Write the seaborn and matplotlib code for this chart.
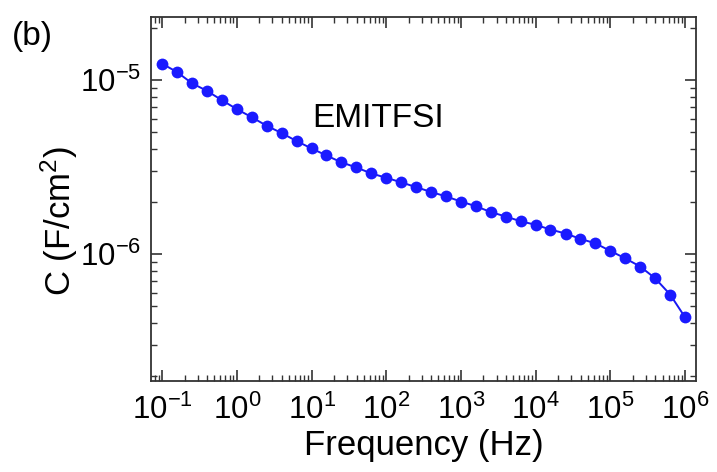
import numpy as np
import pandas as pd
import matplotlib
matplotlib.use("Agg")
import matplotlib.pyplot as plt
import matplotlib.ticker as mticker
import seaborn as sns

# ----------------------------
# DATA
# ----------------------------

freq_hz = [0.1, 0.158, 0.251, 0.398, 0.631,
           1.0, 1.58, 2.51, 3.98, 6.31,
           10.0, 15.8, 25.1, 39.8, 63.1,
           1e2, 1.58e2, 2.51e2, 3.98e2, 6.31e2,
           1e3, 1.58e3, 2.51e3, 3.98e3, 6.31e3,
           1e4, 1.58e4, 2.51e4, 3.98e4, 6.31e4,
           1e5, 1.58e5, 2.51e5, 3.98e5, 6.31e5,
           1e6]

cap_f_cm2 = [1.24e-5, 1.11e-5, 9.57e-6, 8.65e-6, 7.65e-6,
             6.79e-6, 6.11e-6, 5.45e-6, 4.95e-6, 4.45e-6,
             4.04e-6, 3.68e-6, 3.36e-6, 3.14e-6, 2.90e-6,
             2.74e-6, 2.58e-6, 2.42e-6, 2.27e-6, 2.14e-6,
             2.00e-6, 1.88e-6, 1.74e-6, 1.64e-6, 1.54e-6,
             1.47e-6, 1.38e-6, 1.31e-6, 1.22e-6, 1.15e-6,
             1.04e-6, 9.43e-7, 8.46e-7, 7.24e-7, 5.84e-7,
             4.32e-7]

x_ticks = [1e-1, 1e0, 1e1, 1e2, 1e3, 1e4, 1e5, 1e6]
x_ticklabels = ["$10^{-1}$", "$10^{0}$", "$10^{1}$", "$10^{2}$",
                "$10^{3}$", "$10^{4}$", "$10^{5}$", "$10^{6}$"]
y_ticks = [1e-6, 1e-5]
y_ticklabels = ["$10^{-6}$", "$10^{-5}$"]

df = pd.DataFrame({"f": freq_hz, "C": cap_f_cm2})

# ----------------------------
# STYLE
# ----------------------------

sns.set_style("ticks")
plt.rcParams["font.family"] = ["Liberation Sans", "DejaVu Sans"]
plt.rcParams["mathtext.fontset"] = "custom"
plt.rcParams["mathtext.rm"] = "Liberation Sans"
plt.rcParams["mathtext.it"] = "Liberation Sans"
plt.rcParams["axes.unicode_minus"] = False
plt.rcParams["text.color"] = "black"
plt.rcParams["axes.labelcolor"] = "black"
plt.rcParams["xtick.labelcolor"] = "black"
plt.rcParams["ytick.labelcolor"] = "black"

fig = plt.figure(figsize=(7.17, 4.72), dpi=100)
ax = fig.add_axes([0.2106, 0.1928, 0.7601, 0.7712])

sns.lineplot(
    data=df, x="f", y="C", ax=ax,
    color="#1818f2", linewidth=1.4,
    marker="o", markersize=8.5, markeredgewidth=0,
    markerfacecolor="#1a1aff"
)

ax.set_xscale("log")
ax.set_yscale("log")
ax.set_xlim(0.071, 1.4e6)
ax.set_ylim(1.86e-7, 2.3e-5)

ax.set_xticks(x_ticks)
ax.set_xticklabels(x_ticklabels)
ax.set_yticks(y_ticks)
ax.set_yticklabels(y_ticklabels)
ax.xaxis.set_minor_locator(mticker.LogLocator(base=10, subs=np.arange(2, 10), numticks=20))
ax.yaxis.set_minor_locator(mticker.LogLocator(base=10, subs=np.arange(2, 10), numticks=20))
ax.xaxis.set_minor_formatter(mticker.NullFormatter())
ax.yaxis.set_minor_formatter(mticker.NullFormatter())

ax.tick_params(which="both", direction="in", top=True, right=True, color="#333333")
ax.tick_params(which="major", length=8, width=1.2, labelsize=22.5)
ax.tick_params(axis="x", which="major", pad=10)
ax.tick_params(axis="y", which="major", pad=7)
ax.tick_params(which="minor", length=4, width=1.0)
for s in ax.spines.values():
    s.set_linewidth(1.3)
    s.set_color("#333333")

ax.set_xlabel("Frequency (Hz)", fontsize=25, labelpad=2)
ax.set_ylabel("C (F/cm$^{2}$)", fontsize=25)
ax.yaxis.set_label_coords(-0.13, 0.44)

ax.text(0.295, 0.698, "EMITFSI", transform=ax.transAxes, fontsize=24,
        va="baseline", color="black")
fig.text(0.016, 0.905, "(b)", fontsize=24, va="baseline")

plt.savefig("out.png", dpi=100)
